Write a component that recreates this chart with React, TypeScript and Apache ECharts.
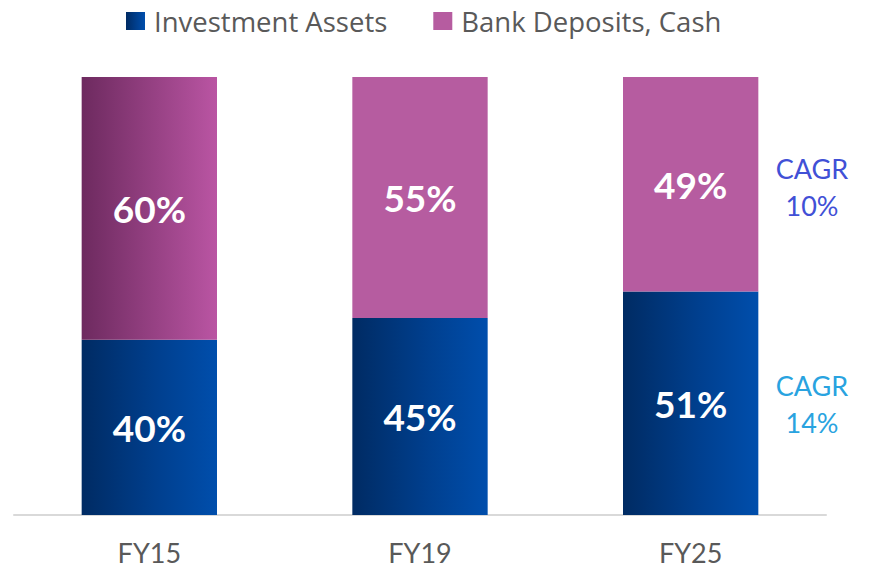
import React, { useEffect, useRef } from "react";
import * as echarts from "echarts";

const categories = ["FY15", "FY19", "FY25"];
const investmentAssets = [40, 45, 51];
const bankDeposits = [60, 55, 49];
const cagrDeposits = "CAGR\n10%";
const cagrInvestment = "CAGR\n14%";

const FONT = "Lato, 'Open Sans', sans-serif";

const blueGrad = new echarts.graphic.LinearGradient(0, 0, 1, 0, [
  { offset: 0, color: "#002B63" },
  { offset: 0.55, color: "#003F8E" },
  { offset: 1, color: "#004EAC" },
]);
const pinkGrad = new echarts.graphic.LinearGradient(0, 0, 1, 0, [
  { offset: 0, color: "#6D2A5F" },
  { offset: 1, color: "#BA55A3" },
]);
const PINK = "#B65CA0";

export default function App() {
  const ref = useRef<HTMLDivElement>(null);
  useEffect(() => {
    if (!ref.current) return;
    const chart = echarts.init(ref.current, null, { renderer: "svg" });
    const label = {
      show: true,
      position: "inside",
      color: "#FFFFFF",
      fontSize: 37,
      fontWeight: "bold",
      fontFamily: FONT,
      formatter: (p: any) => p.value + "%",
    };
    chart.setOption({
      animation: false,
      legend: {
        top: 2,
        left: 121,
        icon: "rect",
        itemWidth: 19,
        itemHeight: 18,
        itemGap: 46,
        textStyle: {
          fontSize: 27.5,
          color: "#595959",
          fontFamily: "'Open Sans', sans-serif",
          padding: [0, 0, 0, 4],
        },
        data: [
          { name: "Investment Assets", itemStyle: { color: blueGrad } },
          { name: "Bank Deposits, Cash", itemStyle: { color: PINK } },
        ],
      },
      grid: { left: 14, right: 44, top: 77, bottom: 54 },
      xAxis: {
        type: "category",
        data: categories,
        axisLine: { show: true, lineStyle: { color: "#D9D9D9", width: 2 } },
        axisTick: { show: false },
        axisLabel: { color: "#595959", fontSize: 27, fontFamily: FONT, margin: 24 },
      },
      yAxis: { type: "value", min: 0, max: 100, show: false, splitLine: { show: false } },
      series: [
        {
          name: "Investment Assets",
          type: "bar",
          stack: "total",
          barWidth: "50%",
          data: investmentAssets.map((v) => ({ value: v, itemStyle: { color: blueGrad } })),
          label,
        },
        {
          name: "Bank Deposits, Cash",
          type: "bar",
          stack: "total",
          barWidth: "50%",
          data: bankDeposits.map((v, i) => ({
            value: v,
            itemStyle: { color: i === 0 ? pinkGrad : PINK },
          })),
          label,
        },
      ],
      graphic: [
        {
          type: "text",
          x: 812,
          y: 187,
          style: {
            text: cagrDeposits,
            fill: "#4150D6",
            fontSize: 27,
            fontFamily: FONT,
            align: "center",
            verticalAlign: "middle",
            lineHeight: 37,
          },
        },
        {
          type: "text",
          x: 812,
          y: 404,
          style: {
            text: cagrInvestment,
            fill: "#29A3E0",
            fontSize: 27,
            fontFamily: FONT,
            align: "center",
            verticalAlign: "middle",
            lineHeight: 37,
          },
        },
      ],
    });
    return () => chart.dispose();
  }, []);
  return <div ref={ref} style={{ width: 870, height: 569, position: "absolute", left: 0, top: 0 }} />;
}
